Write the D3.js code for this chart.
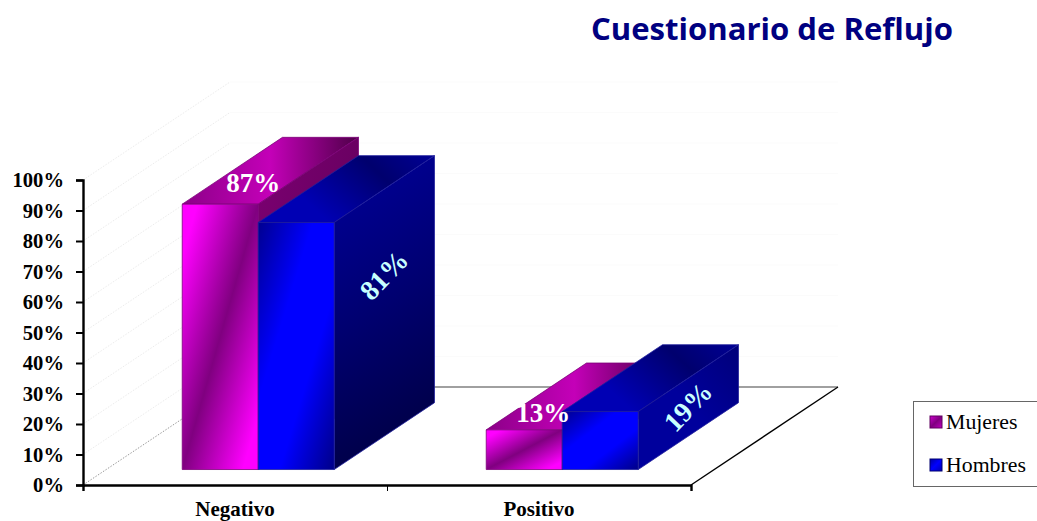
<!DOCTYPE html>
<html>
<head>
<meta charset="utf-8">
<script src="https://cdn.jsdelivr.net/npm/d3@7"></script>
<style>
  html, body { margin: 0; padding: 0; background: #fff; overflow: hidden; }
  svg { display: block; }
  text { font-family: "Liberation Serif", serif; }
</style>
</head>
<body>
<div id="chart"></div>
<script>
const chartTitle = "Cuestionario de Reflujo";
const categories = ["Negativo", "Positivo"];
const seriesNames = ["Mujeres", "Hombres"];
const mujeres = [87, 13];
const hombres = [81, 19];
const percentTicks = [0, 10, 20, 30, 40, 50, 60, 70, 80, 90, 100];

const width = 1037;
const height = 521;
const values = { Mujeres: mujeres, Hombres: hombres };

const svg = d3.select("#chart").append("svg").attr("width", width).attr("height", height);
const defs = svg.append("defs");

const addGradient = (id, stops, x2 = 1, y2 = 1) => {
  const g = defs.append("linearGradient").attr("id", id)
    .attr("x1", 0).attr("y1", 0).attr("x2", x2).attr("y2", y2);
  stops.forEach(([offset, color]) => g.append("stop").attr("offset", offset).attr("stop-color", color));
};

addGradient("mFront", [[0.1, "#ff00ff"], [0.5, "#800080"], [0.9, "#ff00ff"]]);
addGradient("mTop", [[0, "#8c0088"], [0.5, "#c400b8"], [1, "#4e0048"]], 1, 0);
addGradient("mSide", [[0, "#7c0072"], [1, "#5a0054"]]);
addGradient("hFront", [[0, "#000090"], [0.36, "#0000ff"], [0.64, "#0000ff"], [1, "#000088"]]);
addGradient("hTop", [[0, "#0000b4"], [0.5, "#00006e"], [1, "#0000a4"]], 1, -0.4);
addGradient("hSideNegativo", [[0, "#00009c"], [0.55, "#000070"], [1, "#000048"]], 0.2, 1);
addGradient("hSidePositivo", [[0, "#00009c"], [0.5, "#00007a"], [1, "#0000a0"]], 1, -1);
addGradient("mSwatch", [[0, "#d000d0"], [0.5, "#800080"], [1, "#c000c0"]]);
addGradient("hSwatch", [[0, "#0000a0"], [0.5, "#0000ff"], [1, "#0000b0"]]);

const y = d3.scaleLinear().domain([0, 100]).range([485, 180]);
const xBand = d3.scaleBand().domain(categories).range([83, 691]);
const xEdge = d3.scaleLinear().domain([0, categories.length]).range([83, 691]);
const xSeries = d3.scaleBand().domain(seriesNames).range([76, 228]);

// oblique projection of the floor depth
const depthX = 147;
const depthY = -98;
const barFront = 0.158;
const barBack = 0.84;
const project = (px, py, d) => [px + depthX * d, py + depthY * d];
const poly = (pts) => pts.map((p) => p.join(",")).join(" ");

// walls and floor
const walls = svg.append("g").attr("fill", "none");
percentTicks.forEach((t) => {
  const [bx, by] = project(xEdge(0), y(t), 1);
  walls.append("line")
    .attr("x1", xEdge(0)).attr("y1", y(t)).attr("x2", bx).attr("y2", by)
    .attr("stroke", t === 0 ? "#9a9a9a" : "#ececec")
    .attr("stroke-width", 1)
    .attr("stroke-dasharray", "1.5 1.5");
  if (t > 0) {
    walls.append("line")
      .attr("x1", bx).attr("y1", by).attr("x2", xEdge(2) + depthX).attr("y2", by)
      .attr("stroke", "#fbfbfb");
  }
});

const [floorBackX, floorBackY] = project(xEdge(2), y(0), 1);
walls.append("line")
  .attr("x1", project(xEdge(0), y(0), 1)[0]).attr("y1", floorBackY)
  .attr("x2", floorBackX).attr("y2", floorBackY)
  .attr("stroke", "#808080").attr("stroke-width", 1.5);
walls.append("line")
  .attr("x1", xEdge(2)).attr("y1", y(0))
  .attr("x2", floorBackX).attr("y2", floorBackY)
  .attr("stroke", "#000").attr("stroke-width", 1.4);

// axes
const yAxis = svg.append("g")
  .attr("transform", `translate(${xEdge(0)},0)`)
  .call(d3.axisLeft(y).tickValues(percentTicks).tickSize(7).tickPadding(12).tickFormat((d) => d + "%"));
yAxis.selectAll("text").attr("font-size", 20.6).attr("font-weight", "bold").attr("font-family", "Liberation Serif");
yAxis.selectAll("line").attr("stroke", "#000").attr("stroke-width", 2);
yAxis.select(".domain").attr("stroke", "#000").attr("stroke-width", 2.4);

const xAxis = svg.append("g")
  .attr("transform", `translate(0,${y(0)})`)
  .call(d3.axisBottom(xEdge).ticks(categories.length).tickSize(6).tickFormat(""));
xAxis.selectAll("line").attr("stroke", "#000").attr("stroke-width", 1);
xAxis.select(".domain").attr("stroke", "#000").attr("stroke-width", 2.4);

svg.append("g").selectAll("text").data(categories).join("text")
  .attr("x", (d) => xBand(d) + xBand.bandwidth() / 2)
  .attr("y", 515.5)
  .attr("text-anchor", "middle")
  .attr("font-size", 21)
  .attr("font-weight", "bold")
  .text((d) => d);

// 3D bars, painted back to front
const bars = svg.append("g");
categories.forEach((cat, i) => {
  seriesNames.forEach((name) => {
    const left = xBand(cat) + xSeries(name);
    const right = left + xSeries.bandwidth();
    const top = y(values[name][i]);
    const base = y(0);
    const isM = name === "Mujeres";
    const edge = isM ? "#7c0078" : "#20209c";

    const fl = project(left, top, barFront);
    const fr = project(right, top, barFront);
    const bl = project(left, top, barBack);
    const br = project(right, top, barBack);
    const flb = project(left, base, barFront);
    const frb = project(right, base, barFront);
    const brb = project(right, base, barBack);

    const g = bars.append("g").attr("stroke", edge).attr("stroke-width", 0.8).attr("stroke-linejoin", "round");
    g.append("polygon").attr("points", poly([fl, bl, br, fr])).attr("fill", isM ? "url(#mTop)" : "url(#hTop)");
    g.append("polygon").attr("points", poly([fr, br, brb, frb]))
      .attr("fill", isM ? "url(#mSide)" : `url(#hSide${cat})`);
    g.append("polygon").attr("points", poly([fl, fr, frb, flb])).attr("fill", isM ? "url(#mFront)" : "url(#hFront)");
  });
});

// value labels sit on the top face for Mujeres and along the side face for Hombres
const labelNudge = { Negativo: [-17, 12, -37], Positivo: [-31, 17, 0] };
const labels = svg.append("g").attr("font-weight", "bold");
categories.forEach((cat, i) => {
  const [mdx, mdy, hdy] = labelNudge[cat];
  const mLeft = xBand(cat) + xSeries("Mujeres");
  const mTop = y(mujeres[i]);
  const [mx, my] = project(mLeft + xSeries.bandwidth() / 2, mTop, (barFront + barBack) / 2);
  labels.append("text")
    .attr("x", mx + mdx).attr("y", my + mdy + 9)
    .attr("text-anchor", "middle")
    .attr("font-size", 27)
    .attr("fill", "#fff")
    .text(mujeres[i] + "%");

  const hRight = xBand(cat) + xSeries("Hombres") + xSeries.bandwidth();
  const midY = (y(hombres[i]) + y(0)) / 2;
  const [hx, hy] = project(hRight, midY, (barFront + barBack) / 2);
  labels.append("text")
    .attr("transform", `translate(${hx},${hy + hdy}) rotate(-46)`)
    .attr("y", 9)
    .attr("text-anchor", "middle")
    .attr("font-size", 28)
    .attr("fill", "#c8ffff")
    .text(hombres[i] + "%");
});

// title
svg.append("text")
  .attr("x", 591).attr("y", 39.5)
  .attr("font-size", 31)
  .attr("font-weight", "bold")
  .attr("fill", "#000080")
  .attr("textLength", 362)
  .attr("lengthAdjust", "spacingAndGlyphs")
  .style("font-family", "'Open Sans', sans-serif")
  .text(chartTitle);

// legend, its box runs off the right edge of the page
const legend = svg.append("g").attr("transform", "translate(913,401)");
legend.append("rect")
  .attr("x", 0.5).attr("y", 0.5).attr("width", 130).attr("height", 85)
  .attr("fill", "#fff").attr("stroke", "#666").attr("stroke-width", 1);
const legendRow = d3.scalePoint().domain(seriesNames).range([21, 64]);
const legendItem = legend.selectAll("g").data(seriesNames).join("g")
  .attr("transform", (d) => `translate(0,${legendRow(d)})`);
legendItem.append("rect")
  .attr("x", 17).attr("y", -6).attr("width", 12).attr("height", 12)
  .attr("fill", (d) => (d === "Mujeres" ? "url(#mSwatch)" : "url(#hSwatch)"))
  .attr("stroke", (d) => (d === "Mujeres" ? "#600060" : "#000070"))
  .attr("stroke-width", 1);
legendItem.append("text")
  .attr("x", 33).attr("y", 7)
  .attr("font-size", 21.8)
  .attr("fill", "#000")
  .text((d) => d);
</script>
</body>
</html>
